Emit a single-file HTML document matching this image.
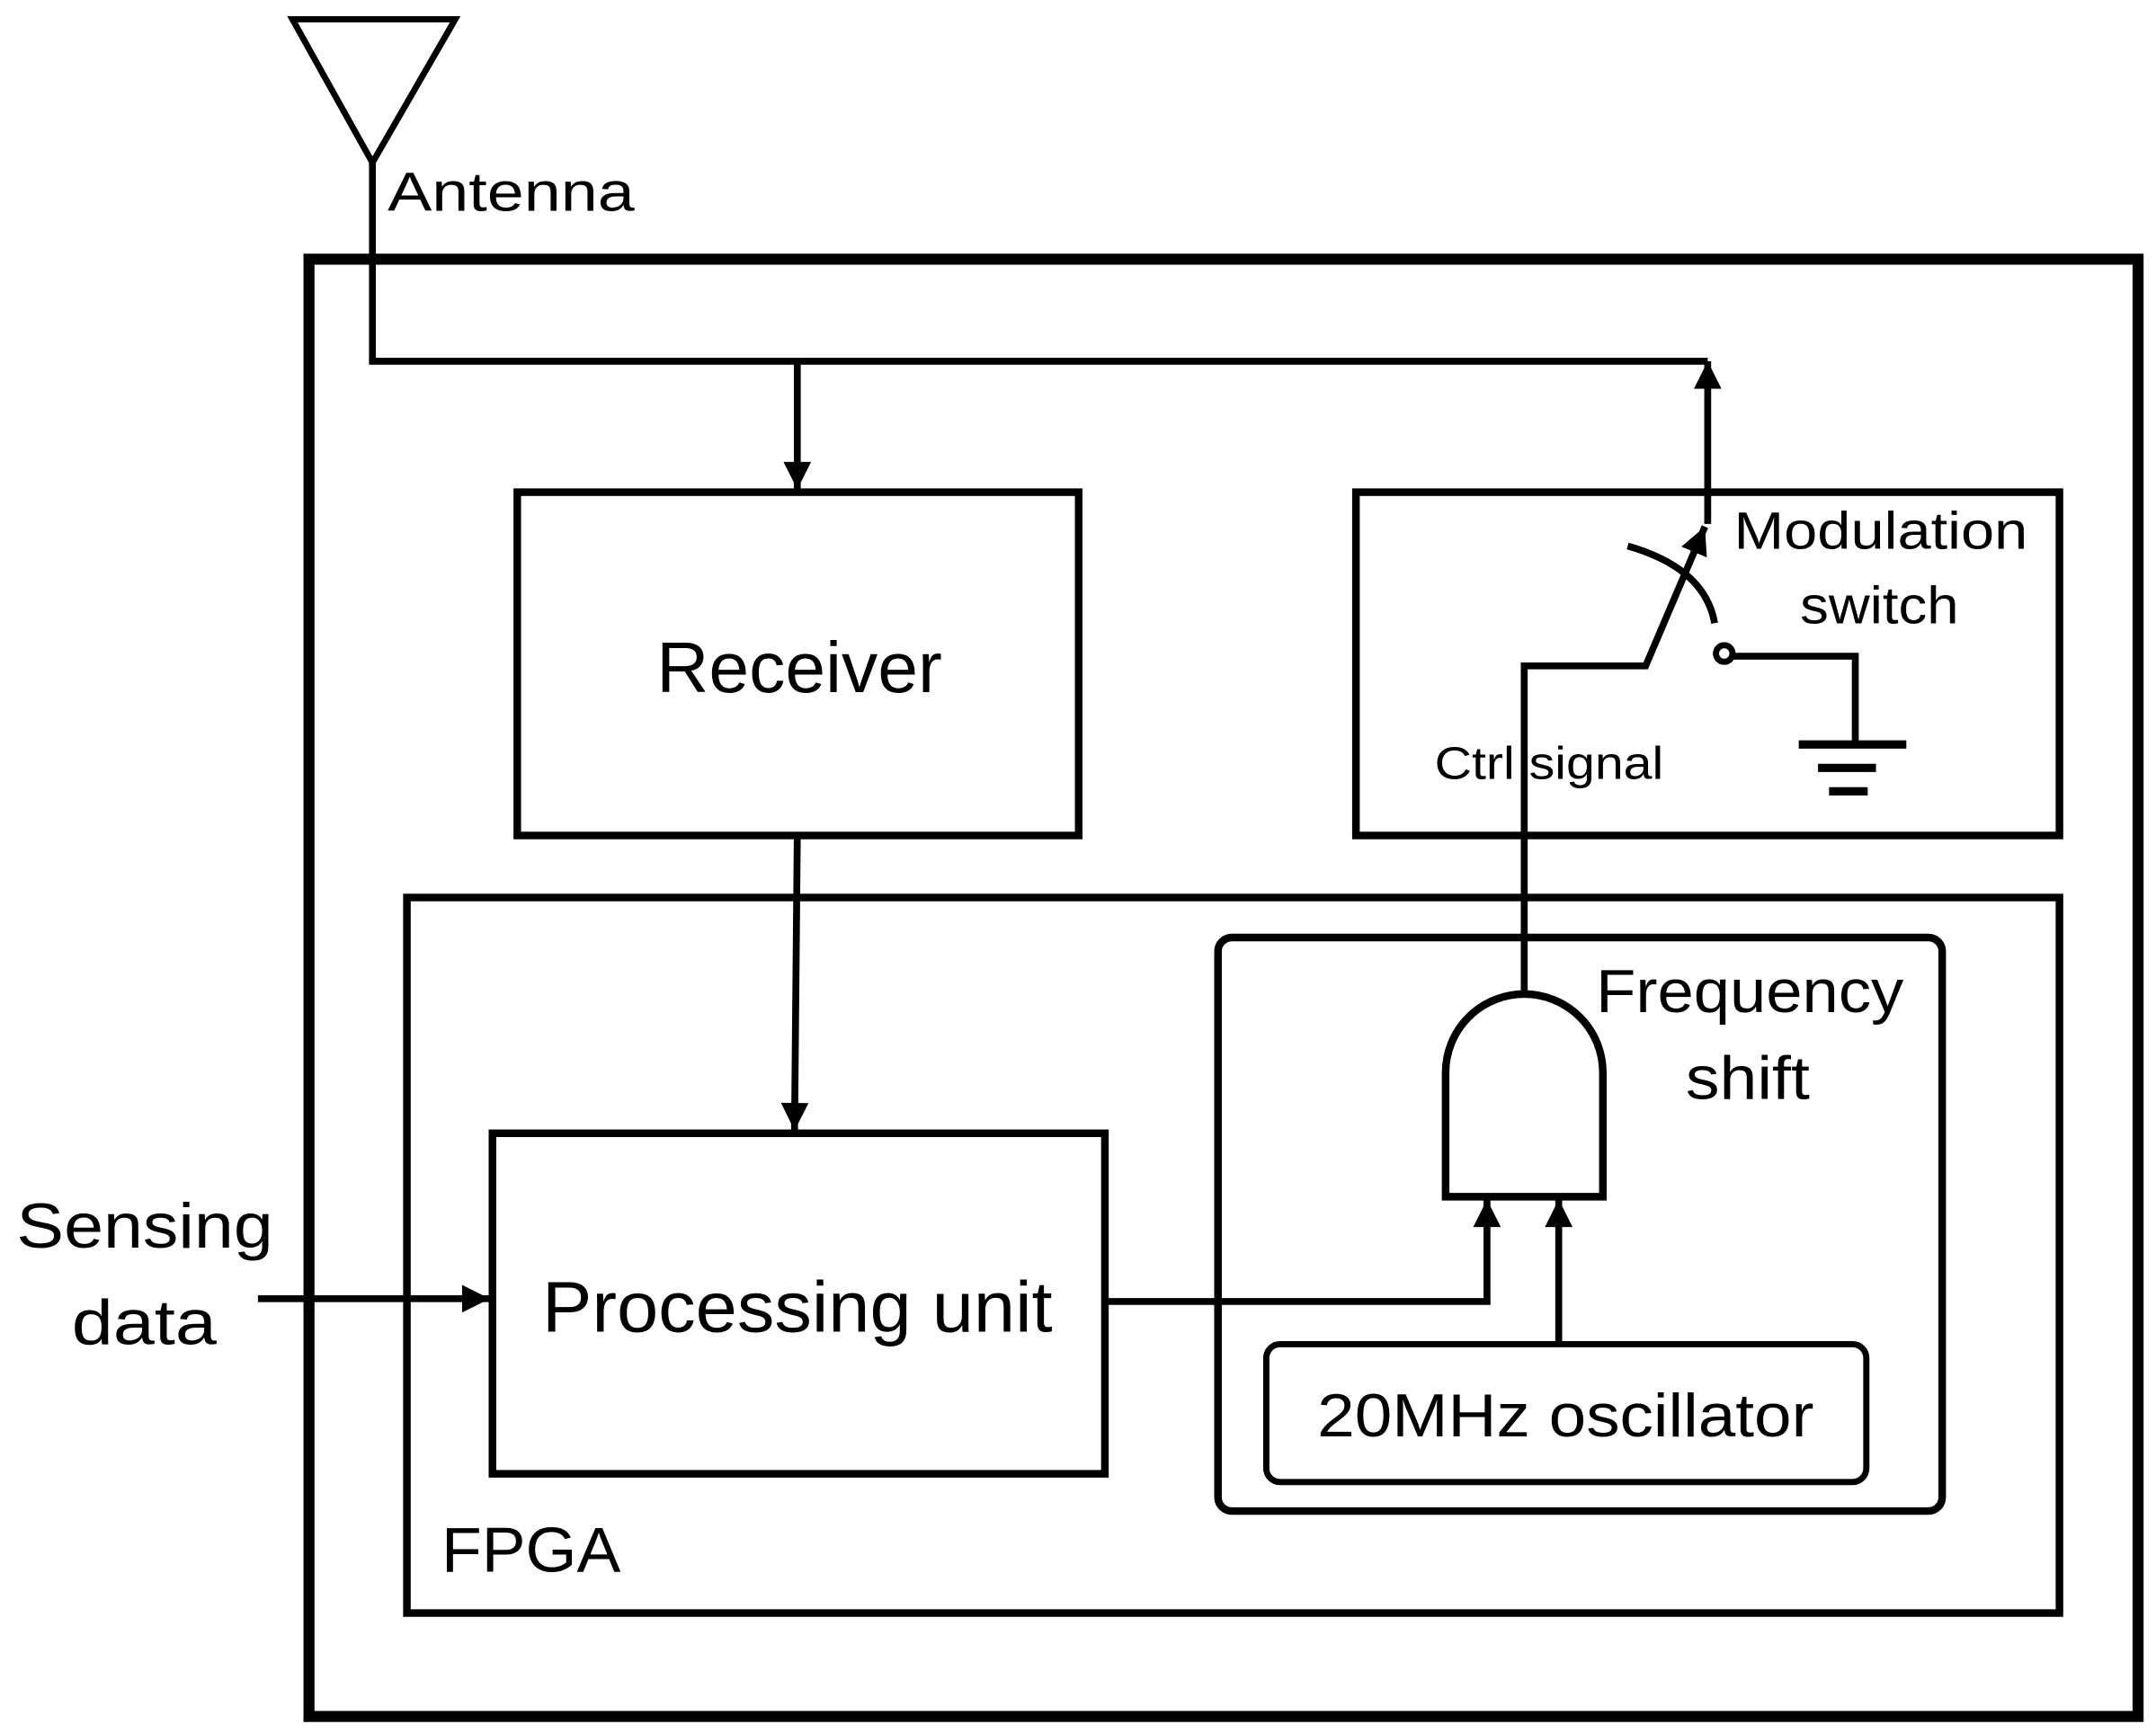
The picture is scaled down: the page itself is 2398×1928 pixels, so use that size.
<!DOCTYPE html>
<html><head><style>html,body{margin:0;padding:0;background:#fff}svg{display:block}</style></head><body>
<svg width="2398" height="1928" viewBox="0 0 1563 1257" preserveAspectRatio="none" xmlns="http://www.w3.org/2000/svg" font-family="'Liberation Sans', sans-serif">
<defs>
<marker id="a" viewBox="0 0 10 10" refX="10" refY="5" markerWidth="5" markerHeight="4" markerUnits="strokeWidth" orient="auto"><path d="M0,0 L10,5 L0,10 z" fill="#000"/></marker>
</defs>
<g fill="none" stroke="#000">
<polygon points="212,14 330,14 270,118" stroke-width="4.5"/>
<polyline points="270,118 270,262 1238,262" stroke-width="5"/>
<rect x="224" y="188" width="1326" height="1057" stroke-width="8"/>
<line x1="578" y1="262" x2="578" y2="355" stroke-width="5" marker-end="url(#a)"/>
<line x1="1238" y1="380" x2="1238" y2="262" stroke-width="5" marker-end="url(#a)"/>
<rect x="375" y="357" width="407" height="249" stroke-width="5.5"/>
<rect x="983" y="357" width="510" height="249" stroke-width="5.5"/>
<rect x="295" y="651" width="1198" height="519" stroke-width="5.5"/>
<rect x="883" y="680" width="525" height="416" rx="10" stroke-width="5.5"/>
<rect x="357" y="822" width="444" height="247" stroke-width="5.5"/>
<rect x="918" y="975" width="435" height="100" rx="10" stroke-width="4.5"/>
<line x1="578" y1="606" x2="576" y2="820" stroke-width="5" marker-end="url(#a)"/>
<line x1="187" y1="942" x2="355" y2="942" stroke-width="5" marker-end="url(#a)"/>
<polyline points="801,944 1078,944 1078,870" stroke-width="5" marker-end="url(#a)"/>
<line x1="1130" y1="975" x2="1130" y2="870" stroke-width="5" marker-end="url(#a)"/>
<path d="M1048,868 L1048,778 A57,57 0 0 1 1162,778 L1162,868 Z" stroke-width="5.5"/>
<polyline points="1105,720 1105,483 1193,483 1236,382" stroke-width="5" marker-end="url(#a)"/>
<path d="M1180,396 Q1236,412 1243,452" stroke-width="5"/>
<circle cx="1250" cy="474" r="6" stroke-width="4.5"/>
<polyline points="1256,476 1345,476 1345,540" stroke-width="5"/>
<line x1="1304" y1="540" x2="1382" y2="540" stroke-width="6"/>
<line x1="1318" y1="557" x2="1360" y2="557" stroke-width="6"/>
<line x1="1326" y1="574" x2="1354" y2="574" stroke-width="6"/>
</g>
<g fill="#000">
<text x="281" y="153" font-size="40" textLength="179" lengthAdjust="spacingAndGlyphs">Antenna</text>
<text x="476" y="502" font-size="52" textLength="207" lengthAdjust="spacingAndGlyphs">Receiver</text>
<text x="393" y="966" font-size="52" textLength="370" lengthAdjust="spacingAndGlyphs">Processing unit</text>
<text x="1257" y="398" font-size="38" textLength="213" lengthAdjust="spacingAndGlyphs">Modulation</text>
<text x="1305" y="452" font-size="38" textLength="115" lengthAdjust="spacingAndGlyphs">switch</text>
<text x="1040" y="565" font-size="33" textLength="166" lengthAdjust="spacingAndGlyphs">Ctrl signal</text>
<text x="1157" y="734" font-size="44" textLength="223" lengthAdjust="spacingAndGlyphs">Frequency</text>
<text x="1222" y="797" font-size="44" textLength="90" lengthAdjust="spacingAndGlyphs">shift</text>
<text x="955" y="1042" font-size="44" textLength="360" lengthAdjust="spacingAndGlyphs">20MHz oscillator</text>
<text x="320" y="1140" font-size="46" textLength="130" lengthAdjust="spacingAndGlyphs">FPGA</text>
<text x="12" y="905" font-size="46" textLength="186" lengthAdjust="spacingAndGlyphs">Sensing</text>
<text x="52" y="975" font-size="46" textLength="105" lengthAdjust="spacingAndGlyphs">data</text>
</g>
</svg>
</body></html>
